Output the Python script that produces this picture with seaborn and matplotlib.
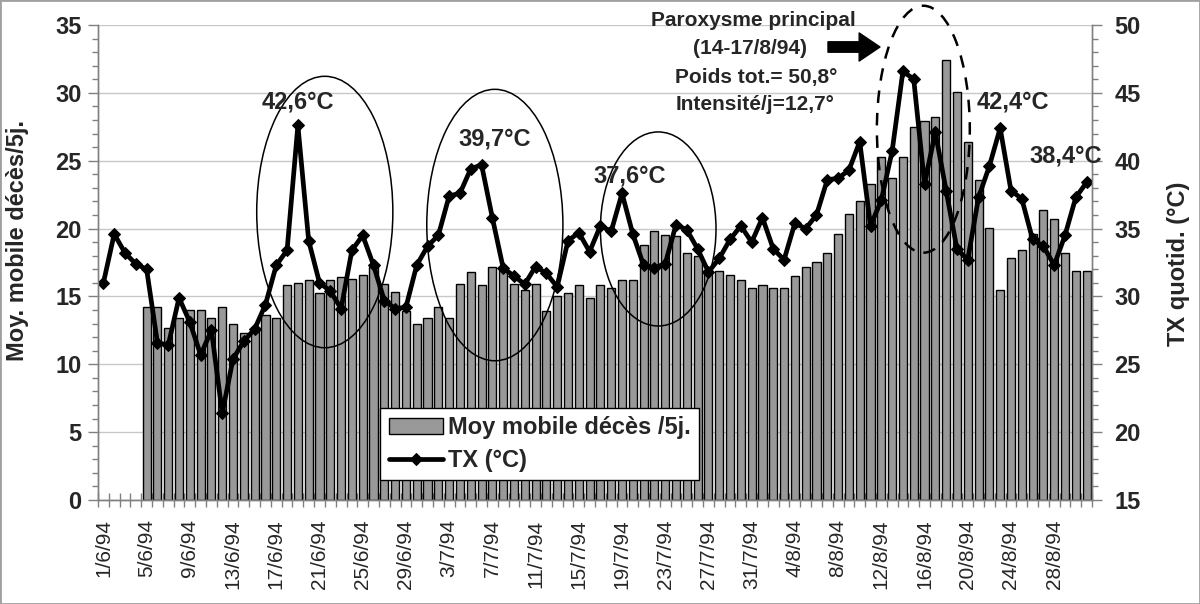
import numpy as np
import pandas as pd
import seaborn as sns
import matplotlib.pyplot as plt
from matplotlib.patches import Ellipse, Rectangle

sns.set_style('white')
plt.rcParams['font.family'] = ['Liberation Sans', 'DejaVu Sans']

# --- data: 1/6/94 -> 31/8/94 ---
days = pd.date_range('1994-06-01', '1994-08-31', freq='D')
jours = [f"{d.day}/{d.month}/94" for d in days]

# daily max temperature (°C)
tx = [31.0, 34.6, 33.2, 32.4, 32.0, 26.6, 26.4, 29.9, 28.1, 25.7,
      27.5, 21.4, 25.4, 26.7, 27.6, 29.4, 32.3, 33.4, 42.6, 34.1,
      31.0, 30.4, 29.1, 33.4, 34.5, 32.3, 29.7, 29.1, 29.2, 32.3,
      33.7, 34.5, 37.4, 37.6, 39.4, 39.7, 35.8, 32.1, 31.5, 30.9,
      32.2, 31.7, 30.7, 34.1, 34.7, 33.3, 35.2, 34.8, 37.6, 34.6,
      32.3, 32.1, 32.4, 35.3, 34.9, 33.5, 31.8, 32.8, 34.2, 35.2,
      34.0, 35.8, 33.5, 32.7, 35.4, 35.0, 36.0, 38.6, 38.7, 39.3,
      41.4, 35.2, 37.1, 40.7, 46.6, 46.0, 38.3, 42.1, 37.8, 33.5,
      32.7, 37.3, 39.6, 42.4, 37.8, 37.2, 34.2, 33.7, 32.3, 34.5,
      37.3, 38.4]

# 5-day moving average of deaths (starts on 5/6/94)
deces_5j = [np.nan, np.nan, np.nan, np.nan,
            14.25, 14.25, 12.7, 13.4, 14.0, 14.0, 13.4, 14.25, 13.0, 12.3,
            12.7, 13.6, 13.4, 15.85, 16.0, 16.2, 15.25, 16.2, 16.45, 16.25,
            16.6, 17.2, 15.9, 15.3, 13.9, 13.0, 13.4, 14.25, 13.4, 15.95,
            16.8, 15.85, 17.2, 16.95, 15.9, 15.5, 15.95, 13.9, 15.0, 15.25,
            15.85, 14.9, 15.85, 15.6, 16.2, 16.2, 18.8, 19.8, 19.55, 19.45,
            18.2, 17.95, 16.95, 16.85, 16.6, 16.2, 15.6, 15.85, 15.6, 15.6,
            16.5, 17.2, 17.55, 18.2, 19.6, 21.05, 22.0, 23.3, 25.25, 23.75,
            25.25, 27.5, 27.95, 28.25, 32.4, 30.1, 26.35, 23.6, 20.05, 15.5,
            17.85, 18.45, 19.6, 21.4, 20.7, 18.2, 16.85, 16.85]

df = pd.DataFrame({'jour': jours, 'deces_5j': deces_5j, 'tx': tx,
                   'pos': np.arange(len(jours))})

W, H = 1200, 604
fig = plt.figure(figsize=(W / 100, H / 100), dpi=100)
ax = fig.add_axes([98 / W, 1 - 500 / H, 994 / W, 475 / H])
ax2 = ax.twinx()

def px(x, y):
    return x / W, 1 - y / H

gray = '#808080'

# bars
sns.barplot(data=df, x='jour', y='deces_5j', order=jours, color='#999999',
            saturation=1, edgecolor='black', linewidth=1, width=0.75,
            errorbar=None, label='Moy mobile décès /5j.', ax=ax)
if ax.get_legend() is not None:
    ax.get_legend().remove()

# line
sns.lineplot(data=df, x='pos', y='tx', color='black', linewidth=3.4,
             marker='D', markersize=6.5, markeredgecolor='black',
             label='TX (°C)', ax=ax2)
if ax2.get_legend() is not None:
    ax2.get_legend().remove()

# axes
ax.set_xlim(-0.5, len(jours) - 0.5)
ax2.set_xlim(-0.5, len(jours) - 0.5)
ax.set_ylim(0, 35)
ax2.set_ylim(15, 50)

ax.set_yticks(np.arange(0, 36, 5), labels=[str(v) for v in range(0, 36, 5)],
              fontweight='bold')
ax.set_yticks(np.arange(0, 36, 1), minor=True)
ax2.set_yticks(np.arange(15, 51, 5), labels=[str(v) for v in range(15, 51, 5)],
               fontweight='bold')
ax2.set_yticks(np.arange(15, 51, 1), minor=True)

ax.set_xticks(np.arange(0, len(jours), 4), labels=jours[::4], rotation=90)
ax.set_xticks(np.arange(-0.5, len(jours), 1), minor=True)
ax.tick_params(axis='x', which='major', bottom=True, length=0, pad=14,
               labelsize=15)
ax.tick_params(axis='x', which='minor', bottom=True, direction='inout',
               length=10, color=gray, width=1)
ax.tick_params(axis='y', which='major', left=True, direction='out', length=7,
               width=1, color=gray, labelsize=17, pad=5)
ax.tick_params(axis='y', which='minor', left=True, direction='out', length=4,
               width=1, color=gray)
ax2.tick_params(axis='y', which='major', right=True, direction='out',
                length=7, width=1, color=gray, labelsize=17, pad=9)
ax2.tick_params(axis='y', which='minor', right=True, direction='out',
                length=4, width=1, color=gray)

ax.yaxis.grid(True, color='#c8c8c8', linewidth=1)
ax.set_axisbelow(True)
ax2.grid(False)

for a in (ax, ax2):
    for s in a.spines.values():
        s.set_color(gray)
        s.set_linewidth(1)
    a.spines['top'].set_visible(False)

ax.set_xlabel('')
ax.set_ylabel('Moy. mobile décès/5j.', fontsize=17, fontweight='bold')
ax.yaxis.set_label_coords(-0.069, 0.547)
ax2.set_ylabel('TX quotid. (°C)', fontsize=17, fontweight='bold')
ax2.yaxis.set_label_coords(1.0755, 0.497)

# legend
h1, l1 = ax.get_legend_handles_labels()
h2, l2 = ax2.get_legend_handles_labels()
leg = ax2.legend(h1 + h2, l1 + l2, loc='lower left',
                 bbox_to_anchor=(0.284, 0.042), borderaxespad=0,
                 prop={'size': 17, 'weight': 'bold'}, frameon=True,
                 fancybox=False, framealpha=1, edgecolor='black',
                 handlelength=2.3, handletextpad=0.2, labelspacing=0.4,
                 borderpad=0.35)
leg.get_frame().set_linewidth(1)

# ellipses round the heat waves
for (cx, cy, w, h) in [(20.49, 21.22, 12.6, 20.0),
                       (36.23, 20.26, 12.6, 20.0),
                       (51.35, 19.97, 10.7, 14.3)]:
    ax.add_patch(Ellipse((cx, cy), w, h, fill=False, ec='black', lw=1.1,
                         zorder=3))
ax.add_patch(Ellipse((75.89, 27.32), 8.6, 18.2, fill=False, ec='black',
                     lw=1.8, ls=(0, (5, 4)), zorder=3, clip_on=False))

# annotations
for (x, y, s) in [(298, 102, '42,6°C'), (495, 139, '39,7°C'),
                  (630, 176, '37,6°C'), (1013, 102, '42,4°C'),
                  (1066, 156, '38,4°C')]:
    fig.text(*px(x, y), s, ha='center', va='center', fontsize=17,
             fontweight='bold')

for (x, y, s) in [(753, 21, 'Paroxysme principal'),
                  (750, 49, '(14-17/8/94)'),
                  (756, 78, 'Poids tot.= 50,8°'),
                  (755, 105, 'Intensité/j=12,7°')]:
    fig.text(*px(x, y), s, ha='center', va='center', fontsize=15,
             fontweight='bold')

ax.annotate('', xy=px(880, 47), xytext=px(828, 47), xycoords='figure fraction',
            textcoords='figure fraction',
            arrowprops=dict(arrowstyle='simple,head_length=1.0,head_width=1.35,tail_width=0.5',
                            color='black', mutation_scale=15, shrinkA=0,
                            shrinkB=0))

# outer frame
fig.add_artist(Rectangle((0, 0), 1, 1, transform=fig.transFigure, fill=False,
                         ec='#a0a0a0', lw=2))

fig.savefig('out.png', dpi=100)
